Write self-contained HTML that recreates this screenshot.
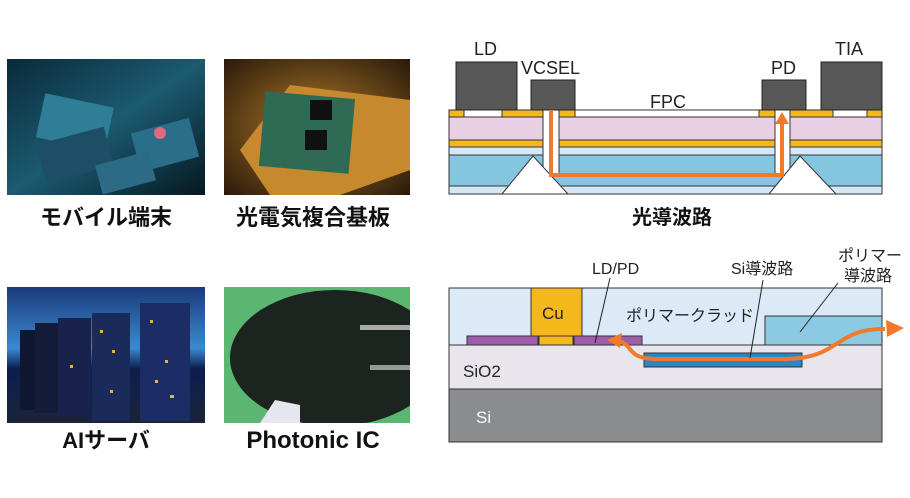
<!DOCTYPE html>
<html><head><meta charset="utf-8"><style>
body{margin:0;background:#fff;width:910px;height:498px;overflow:hidden}
svg{display:block}
text{font-family:"Liberation Sans","Noto Sans CJK JP",sans-serif}
</style></head><body>
<svg width="910" height="498" viewBox="0 0 910 498" xmlns="http://www.w3.org/2000/svg">
<defs>
<linearGradient id="g1" x1="0" y1="0" x2="1" y2="1"><stop offset="0" stop-color="#0a2a3a"/><stop offset=".5" stop-color="#1b5a70"/><stop offset="1" stop-color="#061822"/></linearGradient>
<radialGradient id="g2" cx=".5" cy=".5" r=".7"><stop offset="0" stop-color="#b07a2a"/><stop offset="1" stop-color="#2a1a0a"/></radialGradient>
<linearGradient id="g3" x1="0" y1="0" x2="0" y2="1"><stop offset="0" stop-color="#1a3a7a"/><stop offset=".45" stop-color="#3a8ad0"/><stop offset=".6" stop-color="#0c1e50"/><stop offset="1" stop-color="#1a2438"/></linearGradient>
<clipPath id="c4"><rect x="224" y="287" width="186" height="136"/></clipPath>
</defs>
<rect x="7" y="59" width="198" height="136" fill="url(#g1)"/>
<rect x="40" y="100" width="70" height="45" fill="#2f7e98" transform="rotate(12 75 122)"/>
<rect x="40" y="135" width="70" height="40" fill="#1e4e66" transform="rotate(-15 75 155)"/>
<rect x="135" y="125" width="60" height="40" fill="#2a6e8a" transform="rotate(-15 165 145)"/>
<circle cx="160" cy="133" r="6" fill="#e06a80"/>
<rect x="98" y="158" width="55" height="30" fill="#2c6a86" transform="rotate(-15 125 173)"/>
<rect x="224" y="59" width="186" height="136" fill="url(#g2)"/>
<path d="M240 150 L290 85 L410 100 L410 170 L340 195 L270 195Z" fill="#c6892e"/>
<rect x="262" y="95" width="90" height="75" fill="#2f6a54" transform="rotate(5 307 132)"/>
<rect x="310" y="100" width="22" height="20" fill="#111"/><rect x="305" y="130" width="22" height="20" fill="#111"/>
<rect x="7" y="287" width="198" height="136" fill="url(#g3)"/>
<rect x="20" y="330" width="25" height="80" fill="#101830"/><rect x="35" y="323" width="28" height="90" fill="#141c3a"/>
<rect x="58" y="318" width="33" height="98" fill="#18224a"/><rect x="92" y="313" width="38" height="108" fill="#1a2a5a"/>
<rect x="140" y="303" width="50" height="118" fill="#1c2c64"/>
<g fill="#f0b040"><rect x="100" y="330" width="3" height="3"/><rect x="112" y="350" width="3" height="3"/><rect x="150" y="320" width="3" height="3"/><rect x="165" y="360" width="3" height="3"/><rect x="170" y="395" width="4" height="3"/><rect x="110" y="390" width="3" height="3"/><rect x="70" y="365" width="3" height="3"/><rect x="155" y="380" width="3" height="3"/></g>
<g clip-path="url(#c4)">
<rect x="224" y="287" width="186" height="136" fill="#5ab670"/>
<ellipse cx="335" cy="358" rx="105" ry="68" fill="#1c2420"/>
<rect x="360" y="325" width="50" height="5" fill="#aaa"/><rect x="370" y="365" width="40" height="5" fill="#999"/>
<path d="M260 423 L275 400 L300 405 L300 423Z" fill="#e6e6ee"/>
</g>
<g font-weight="bold" font-size="22" fill="#111" text-anchor="middle">
<text x="106" y="225">モバイル端末</text><text x="313" y="225">光電気複合基板</text>
<text x="106" y="448">AIサーバ</text><text x="313" y="448" font-size="24">Photonic IC</text>
</g>
<g stroke="#333" stroke-width="1">
<rect x="449" y="117" width="433" height="23" fill="#e8cfe4"/>
<rect x="449" y="140" width="433" height="7" fill="#f5b81c"/>
<rect x="449" y="147" width="433" height="8" fill="#d6e8f4"/>
<rect x="449" y="155" width="433" height="31" fill="#84c6e0"/>
<rect x="449" y="186" width="433" height="8" fill="#d6e8f4"/>
<rect x="449" y="110" width="433" height="7" fill="#fff"/>
</g>
<g fill="#fff" stroke="#333"><rect x="543" y="110" width="16" height="65"/><rect x="775" y="110" width="15" height="65"/></g>
<g fill="#f5b81c" stroke="#333"><rect x="449" y="110" width="15" height="7"/><rect x="502" y="110" width="41" height="7"/><rect x="559" y="110" width="16" height="7"/><rect x="759" y="110" width="16" height="7"/><rect x="790" y="110" width="43" height="7"/><rect x="867" y="110" width="15" height="7"/></g>
<g fill="#fff" stroke="#333"><path d="M502 194 L533 156 L568 194Z"/><path d="M769 194 L800 156 L836 194Z"/></g>
<g fill="#575757" stroke="#222"><rect x="456" y="62" width="61" height="48"/><rect x="531" y="80" width="44" height="30"/><rect x="762" y="80" width="44" height="30"/><rect x="821" y="62" width="61" height="48"/></g>
<path d="M551 110 L551 175 L782 175 L782 122" fill="none" stroke="#f07a2a" stroke-width="4"/>
<path d="M775 124 L782 112 L789 124Z" fill="#f07a2a"/>
<g font-size="18" fill="#222"><text x="474" y="55">LD</text><text x="521" y="74">VCSEL</text><text x="650" y="108">FPC</text><text x="771" y="74">PD</text><text x="835" y="55">TIA</text></g>
<text x="672" y="224" font-size="20" font-weight="bold" text-anchor="middle" fill="#111">光導波路</text>
<g stroke="#333" stroke-width="1">
<rect x="449" y="288" width="433" height="57" fill="#dbeaf6"/>
<rect x="449" y="345" width="433" height="44" fill="#e8e6ec"/>
<rect x="449" y="389" width="433" height="53" fill="#8a8c8e"/>
<rect x="531" y="288" width="51" height="48" fill="#f5b81c"/>
<rect x="539" y="336" width="34" height="9" fill="#f5b81c"/>
<rect x="467" y="336" width="71" height="9" fill="#a05cac"/>
<rect x="574" y="336" width="68" height="9" fill="#a05cac"/>
<rect x="644" y="353" width="158" height="14" fill="#2a86c8"/>
<rect x="765" y="316" width="117" height="29" fill="#8ccae4"/>
</g>
<path d="M618 341 C635 345 625 358 655 359 L785 359 C840 359 835 328 885 329" fill="none" stroke="#f07a2a" stroke-width="4"/>
<path d="M607 340 L622 333 L620 348Z" fill="#f07a2a"/>
<path d="M904 328 L886 320 L887 337Z" fill="#f07a2a"/>
<g stroke="#222" stroke-width="1"><line x1="610" y1="278" x2="595" y2="343"/><line x1="763" y1="280" x2="750" y2="358"/><line x1="838" y1="283" x2="800" y2="332"/></g>
<g font-size="16" fill="#222"><text x="592" y="274">LD/PD</text><text x="731" y="274">Si導波路</text><text x="838" y="261">ポリマー</text><text x="844" y="281">導波路</text>
<text x="626" y="321">ポリマークラッド</text><text x="542" y="319" font-size="17">Cu</text><text x="463" y="377" font-size="17">SiO2</text></g>
<text x="476" y="423" font-size="17" fill="#fff">Si</text>
</svg>
</body></html>
